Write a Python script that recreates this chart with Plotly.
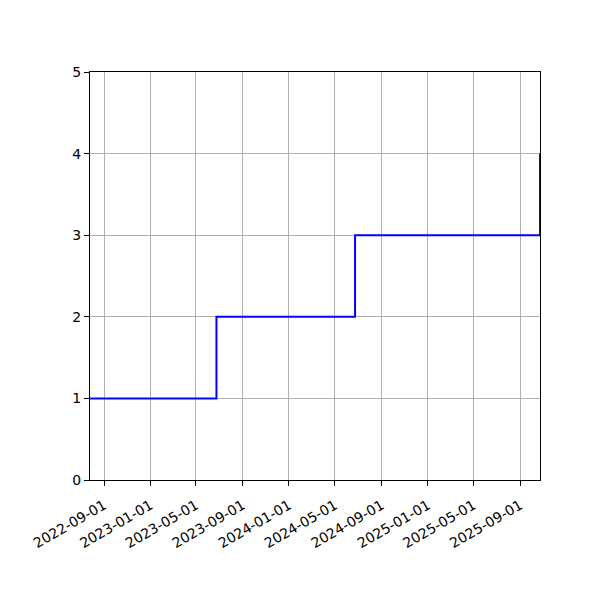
import plotly.graph_objects as go

# step data (cumulative count)
dates = ["2022-07-26", "2023-06-24", "2024-06-23", "2025-10-23"]
counts = [1, 2, 3, 4]
tick_dates = ["2022-09-01", "2023-01-01", "2023-05-01", "2023-09-01", "2024-01-01",
              "2024-05-01", "2024-09-01", "2025-01-01", "2025-05-01", "2025-09-01"]

fig = go.Figure()
fig.add_trace(go.Scatter(x=dates, y=counts, mode="lines", line_shape="hv",
                         line=dict(color="blue", width=2), showlegend=False))

axis_style = dict(showline=True, linecolor="black", linewidth=1, mirror=True,
                  showgrid=True, gridcolor="#b0b0b0", gridwidth=1,
                  ticks="outside", ticklen=5, tickcolor="black", zeroline=False,
                  tickfont=dict(family="DejaVu Sans", size=14, color="black"))

# page body adds 8px offset, so margins are shifted to compensate
fig.update_layout(
    width=600, height=600,
    margin=dict(l=82, r=68, t=64, b=128),
    plot_bgcolor="white", paper_bgcolor="white",
    xaxis=dict(range=[dates[0], dates[-1]], tickvals=tick_dates, ticktext=tick_dates,
               tickangle=-30, ticklabelstandoff=6, **axis_style),
    yaxis=dict(range=[0, 5], tickvals=[0, 1, 2, 3, 4, 5], **axis_style),
)

fig.write_html("out.html")
